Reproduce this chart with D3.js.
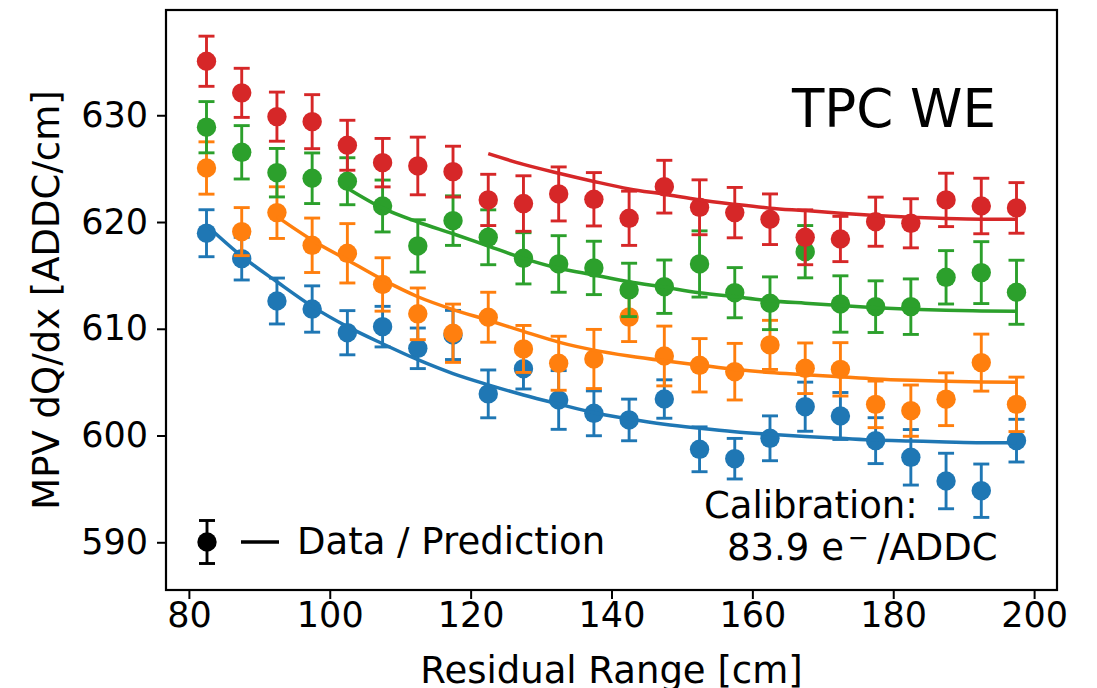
<!DOCTYPE html>
<html>
<head>
<meta charset="utf-8">
<script src="https://cdn.jsdelivr.net/npm/d3@7"></script>
<style>
  html, body { margin: 0; padding: 0; background: #fff; }
  svg { display: block; font-family: "DejaVu Sans", sans-serif; }
</style>
</head>
<body>
<svg id="chart" width="1097" height="688"></svg>
<script>
// Residual range bin centres [cm]
const residualRange = [82.5, 87.5, 92.5, 97.5, 102.5, 107.5, 112.5, 117.5, 122.5, 127.5, 132.5, 137.5,
                       142.5, 147.5, 152.5, 157.5, 162.5, 167.5, 172.5, 177.5, 182.5, 187.5, 192.5, 197.5];

// Measured MPV dQ/dx [ADDC/cm]
const blueData   = [618.95, 616.57, 612.6, 611.85, 609.63, 610.2, 608.17, 609.42, 603.9, 606.26, 603.33, 602.08,
                    601.46, 603.42, 598.71, 597.83, 599.74, 602.7, 601.83, 599.52, 597.96, 595.74, 594.83, 599.52];
const blueErr    = [2.2, 2.0, 2.15, 2.17, 2.07, 1.9, 1.9, 2.3, 2.24, 1.9, 2.75, 2.1,
                    1.95, 1.8, 2.1, 1.9, 2.1, 2.3, 2.2, 2.15, 2.6, 2.6, 2.5, 2.0];
const orangeData = [625.06, 619.1, 620.88, 617.82, 617.07, 614.15, 611.4, 609.58, 611.08, 608.11, 606.77, 607.17,
                    611.1, 607.45, 606.58, 605.98, 608.49, 606.3, 606.2, 602.92, 602.33, 603.4, 606.83, 602.92];
const orangeErr  = [2.45, 2.25, 2.42, 2.55, 2.78, 2.5, 2.42, 2.73, 2.34, 2.2, 2.53, 2.77,
                    2.3, 2.8, 2.5, 2.65, 2.3, 2.37, 2.5, 2.18, 2.4, 2.47, 2.67, 2.55];
const greenData  = [628.88, 626.53, 624.62, 624.1, 623.82, 621.5, 617.76, 620.13, 618.57, 616.6, 616.07, 615.7,
                    613.64, 613.94, 616.07, 613.38, 612.39, 617.22, 612.32, 612.07, 612.07, 614.82, 615.26, 613.42];
const greenErr   = [2.4, 2.5, 2.27, 2.37, 2.2, 2.43, 2.45, 2.32, 2.57, 2.4, 2.65, 2.5,
                    2.5, 2.5, 3.1, 2.35, 2.47, 2.45, 2.64, 2.42, 2.6, 2.5, 2.9, 3.0];
const redData    = [635.06, 632.1, 629.87, 629.4, 627.19, 625.56, 625.25, 624.72, 622.07, 621.73, 622.63, 622.13,
                    620.35, 623.31, 621.38, 620.88, 620.26, 618.57, 618.41, 620.03, 619.88, 622.07, 621.5, 621.32];
const redErr     = [2.35, 2.3, 2.3, 2.53, 2.34, 2.27, 2.7, 2.38, 2.4, 2.6, 2.53, 2.5,
                    2.54, 2.47, 2.57, 2.36, 2.37, 2.57, 2.12, 2.3, 2.3, 2.5, 2.6, 2.37];

// Predictions (null where no prediction is drawn)
const bluePred   = [619.7, 616.8, 614.4, 612.1, 610.2, 608.6, 607.1, 605.8, 604.75, 603.8, 602.95, 602.14,
                    601.55, 601.05, 600.68, 600.36, 600.12, 599.9, 599.74, 599.58, 599.49, 599.4, 599.33, 599.33];
const orangePred = [null, null, 620.5, 618.3, 616.45, 614.6, 613.0, 611.8, 610.8, 609.75, 608.75, 608.0,
                    607.45, 607.0, 606.6, 606.2, 605.9, 605.7, 605.5, 605.3, 605.17, 605.08, 605.02, 605.0];
const greenPred  = [null, null, null, null, 623.16, 621.3, 620.0, 618.9, 617.75, 616.6, 615.67, 615.04,
                    614.41, 613.9, 613.38, 613.0, 612.63, 612.39, 612.17, 611.98, 611.83, 611.73, 611.67, 611.64];
const redPred    = [null, null, null, null, null, null, null, null, 626.4, 625.4, 624.57, 623.8,
                    623.1, 622.6, 622.07, 621.66, 621.3, 621.07, 620.82, 620.6, 620.44, 620.32, 620.26, 620.26];

const xTicks = [80, 100, 120, 140, 160, 180, 200];
const yTicks = [590, 600, 610, 620, 630];

const series = [
  {data: blueData,   err: blueErr,   pred: bluePred,   color: "#1f77b4"},
  {data: orangeData, err: orangeErr, pred: orangePred, color: "#ff7f0e"},
  {data: greenData,  err: greenErr,  pred: greenPred,  color: "#2ca02c"},
  {data: redData,    err: redErr,    pred: redPred,    color: "#d62728"}
];

const svg = d3.select("#chart");
const plot = {left: 166, right: 1057, top: 10, bottom: 590};

const x = d3.scaleLinear().domain([76.75, 203.25]).range([plot.left, plot.right]);
const y = d3.scaleLinear().domain([585.53, 639.86]).range([plot.bottom, plot.top]);

const capHalf = 8, rDot = 9.7, ebW = 2.9, fitW = 3.5;

const g = svg.append("g");

series.forEach(s => {
  const pts = residualRange.map((r, i) => ({r, v: s.data[i], e: s.err[i]}));
  const sg = g.append("g");
  // error bars
  sg.selectAll("line.eb").data(pts).join("line")
    .attr("x1", d => x(d.r)).attr("x2", d => x(d.r))
    .attr("y1", d => y(d.v - d.e)).attr("y2", d => y(d.v + d.e))
    .attr("stroke", s.color).attr("stroke-width", ebW);
  sg.selectAll("line.capt").data(pts).join("line")
    .attr("x1", d => x(d.r) - capHalf).attr("x2", d => x(d.r) + capHalf)
    .attr("y1", d => y(d.v + d.e)).attr("y2", d => y(d.v + d.e))
    .attr("stroke", s.color).attr("stroke-width", ebW);
  sg.selectAll("line.capb").data(pts).join("line")
    .attr("x1", d => x(d.r) - capHalf).attr("x2", d => x(d.r) + capHalf)
    .attr("y1", d => y(d.v - d.e)).attr("y2", d => y(d.v - d.e))
    .attr("stroke", s.color).attr("stroke-width", ebW);
  sg.selectAll("circle").data(pts).join("circle")
    .attr("cx", d => x(d.r)).attr("cy", d => y(d.v)).attr("r", rDot)
    .attr("fill", s.color);
  // prediction
  const line = d3.line()
    .defined(d => d.p != null)
    .x(d => x(d.r)).y(d => y(d.p))
    .curve(d3.curveMonotoneX);
  sg.append("path")
    .datum(residualRange.map((r, i) => ({r, p: s.pred[i]})))
    .attr("d", line)
    .attr("fill", "none").attr("stroke", s.color).attr("stroke-width", fitW);
});

// axes
const xAxis = d3.axisBottom(x).tickValues(xTicks).tickSize(9).tickPadding(4).tickFormat(d3.format("d"));
const yAxis = d3.axisLeft(y).tickValues(yTicks).tickSize(9).tickPadding(9).tickFormat(d3.format("d"));

const gx = svg.append("g").attr("transform", `translate(0,${plot.bottom})`).call(xAxis);
const gy = svg.append("g").attr("transform", `translate(${plot.left},0)`).call(yAxis);
[gx, gy].forEach(a => {
  a.select(".domain").remove();
  a.selectAll(".tick line").attr("stroke", "#000").attr("stroke-width", 2);
  a.selectAll(".tick text").attr("fill", "#000")
    .style("font-family", "'DejaVu Sans', sans-serif").style("font-size", "35px");
});
gx.selectAll(".tick text").attr("dy", null).attr("y", 37);

// frame
svg.append("rect")
  .attr("x", plot.left).attr("y", plot.top)
  .attr("width", plot.right - plot.left).attr("height", plot.bottom - plot.top)
  .attr("fill", "none").attr("stroke", "#000").attr("stroke-width", 2.2);

// axis labels
svg.append("text")
  .attr("x", (plot.left + plot.right) / 2).attr("y", 683)
  .attr("text-anchor", "middle").style("font-size", "37px")
  .text("Residual Range [cm]");
svg.append("text")
  .attr("transform", `translate(59,${(plot.top + plot.bottom) / 2}) rotate(-90)`)
  .attr("text-anchor", "middle").style("font-size", "37px")
  .text("MPV dQ/dx [ADDC/cm]");

// annotation
svg.append("text").attr("x", 996).attr("y", 127)
  .attr("text-anchor", "end").style("font-size", "53px").text("TPC WE");

svg.append("text").attr("x", 704).attr("y", 518)
  .style("font-size", "37px").text("Calibration:");
const cal = svg.append("text").style("font-size", "37px");
cal.append("tspan").attr("x", 727).attr("y", 560).text("83.9 e");
cal.append("tspan").attr("x", 848).attr("y", 546).style("font-size", "25px").text("\u2212");
cal.append("tspan").attr("x", 877).attr("y", 560).text("/ADDC");

// legend
const lg = svg.append("g");
const lx = 207, ly = 542;
lg.append("line").attr("x1", lx).attr("x2", lx).attr("y1", ly - 21.5).attr("y2", ly + 21.5)
  .attr("stroke", "#000").attr("stroke-width", ebW);
lg.append("line").attr("x1", lx - capHalf).attr("x2", lx + capHalf).attr("y1", ly - 21.5).attr("y2", ly - 21.5)
  .attr("stroke", "#000").attr("stroke-width", ebW);
lg.append("line").attr("x1", lx - capHalf).attr("x2", lx + capHalf).attr("y1", ly + 21.5).attr("y2", ly + 21.5)
  .attr("stroke", "#000").attr("stroke-width", ebW);
lg.append("circle").attr("cx", lx).attr("cy", ly).attr("r", rDot).attr("fill", "#000");
lg.append("line").attr("x1", 241).attr("x2", 279).attr("y1", ly).attr("y2", ly)
  .attr("stroke", "#000").attr("stroke-width", fitW);
lg.append("text").attr("x", 297).attr("y", 554).style("font-size", "37px").text("Data / Prediction");
</script>
</body>
</html>
